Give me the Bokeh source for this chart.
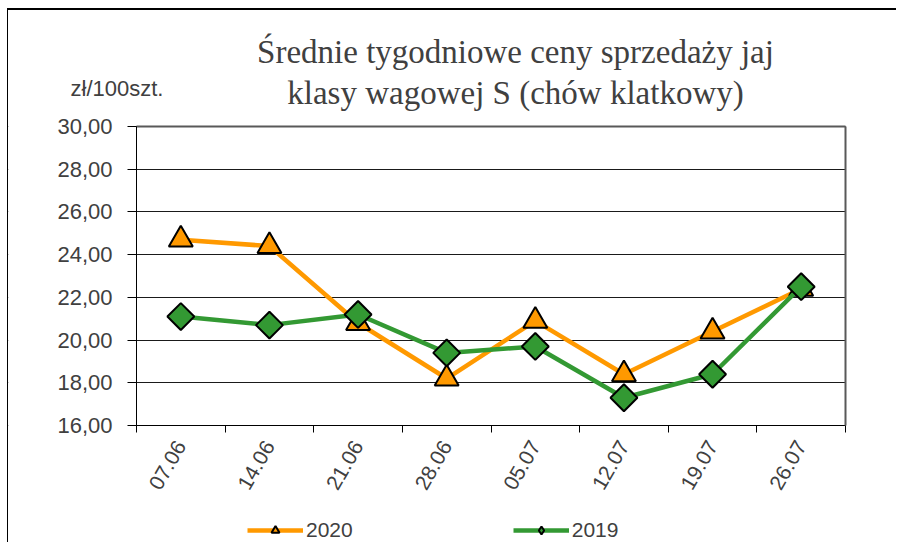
from math import pi
from bokeh.plotting import figure
from bokeh.models import (Range1d, FixedTicker, Legend, LegendItem, Label, LinearAxis,
                          BoxAnnotation)
from bokeh.embed import file_html
from bokeh.resources import INLINE

# ---- data ----
weeks = ["07.06", "14.06", "21.06", "28.06", "05.07", "12.07", "19.07", "26.07"]
prices_2020 = [24.7, 24.4, 20.8, 18.2, 20.9, 18.4, 20.4, 22.4]
prices_2019 = [21.1, 20.7, 21.2, 19.4, 19.7, 17.3, 18.4, 22.5]
y_ticks = [16, 18, 20, 22, 24, 26, 28, 30]
title_lines = ["Średnie tygodniowe ceny sprzedaży jaj", "klasy wagowej S (chów klatkowy)"]
unit_label = "zł/100szt."
series_names = ["2020", "2019"]

n = len(weeks)
xs = [i + 0.5 for i in range(n)]
y_lo, y_hi = y_ticks[0], y_ticks[-1]

# ---- layout (pixels) ----
W, H = 889, 534                 # canvas
PL, PW, PT, PH = 128, 709, 116, 299   # plotting area inside the canvas
px_x = PW / n
px_y = PH / (y_hi - y_lo)
x_range = Range1d(-PL / px_x, n + (W - PL - PW) / px_x)
y_range = Range1d(y_lo - (H - PT - PH) / px_y, y_hi + PT / px_y)

p = figure(width=W, height=H, output_backend="svg", toolbar_location=None,
           x_range=x_range, y_range=y_range,
           min_border=0, min_border_left=0, min_border_right=0,
           min_border_top=0, min_border_bottom=0)
p.styles = {"margin-left": "7px", "margin-top": "8px",
            "border-left": "1px solid #000000", "border-top": "2px solid #000000"}
p.background_fill_color = "white"
p.border_fill_color = "white"
p.outline_line_color = None

# grid
p.xgrid.visible = False
p.ygrid.ticker = FixedTicker(ticks=y_ticks)
p.ygrid.grid_line_color = "#1a1a1a"
p.ygrid.grid_line_width = 1
# keep the grid lines inside the plotting area only
p.add_layout(BoxAnnotation(right=0, fill_color="white", fill_alpha=1, line_color=None,
                           level="underlay"))
p.add_layout(BoxAnnotation(left=n, fill_color="white", fill_alpha=1, line_color=None,
                           level="underlay"))

# y axis
p.yaxis.fixed_location = 0
p.yaxis.bounds = (y_lo, y_hi)
p.yaxis.ticker = FixedTicker(ticks=y_ticks)
p.yaxis.major_label_overrides = {v: f"{v:.2f}".replace(".", ",") for v in y_ticks}
p.yaxis.axis_line_color = "#000000"
p.yaxis.major_tick_line_color = "#000000"
p.yaxis.major_tick_out = 9
p.yaxis.major_tick_in = 0
p.yaxis.minor_tick_line_color = None
p.yaxis.major_label_text_font = "Liberation Sans"
p.yaxis.major_label_text_font_size = "22px"
p.yaxis.major_label_text_color = "#404040"
p.yaxis.major_label_standoff = 15

# x axis
p.xaxis.fixed_location = y_lo
p.xaxis.bounds = (0, n)
p.xaxis.ticker = FixedTicker(ticks=xs, minor_ticks=list(range(n + 1)))
p.xaxis.major_label_overrides = {x: w for x, w in zip(xs, weeks)}
p.xaxis.major_label_orientation = pi / 3
p.xaxis.axis_line_color = "#000000"
p.xaxis.major_tick_out = 0
p.xaxis.major_tick_in = 0
p.xaxis.minor_tick_line_color = "#000000"
p.xaxis.minor_tick_out = 7
p.xaxis.minor_tick_in = 0
p.xaxis.major_label_text_font = "Liberation Sans"
p.xaxis.major_label_text_font_size = "21px"
p.xaxis.major_label_text_color = "#404040"
p.xaxis.major_label_standoff = 10

# plot-area border (right and top) as plain axes without ticks
right_ax = LinearAxis(fixed_location=n, bounds=(y_lo, y_hi), ticker=FixedTicker(ticks=[]),
                      axis_line_color="#595959", axis_line_width=2,
                      major_tick_line_color=None, minor_tick_line_color=None,
                      major_label_text_font_size="0px")
top_ax = LinearAxis(fixed_location=y_hi, bounds=(0, n), ticker=FixedTicker(ticks=[]),
                    axis_line_color="#595959", axis_line_width=2,
                    major_tick_line_color=None, minor_tick_line_color=None,
                    major_label_text_font_size="0px")
p.add_layout(right_ax, "right")
p.add_layout(top_ax, "above")

# series
l20 = p.line(xs, prices_2020, line_color="#FF9900", line_width=4.5)
s20 = p.scatter(xs, prices_2020, marker="triangle", size=24, fill_color="#FF9900",
                line_color="#000000", line_width=2)
l19 = p.line(xs, prices_2019, line_color="#339933", line_width=4.5)
# diamond symbol (fully covered by the rotated squares below) gives the legend its marker
k19 = p.scatter(xs, prices_2019, marker="diamond", size=20, fill_color="#339933",
                line_color="#000000", line_width=2)
s19 = p.scatter(xs, prices_2019, marker="square", angle=pi / 4, size=19,
                fill_color="#339933", line_color="#000000", line_width=2)

legend = Legend(items=[LegendItem(label=series_names[0], renderers=[l20, s20]),
                       LegendItem(label=series_names[1], renderers=[l19, k19])],
                orientation="horizontal", location=(239, 2),
                padding=0, margin=0, spacing=160,
                glyph_width=56, glyph_height=20, label_height=20, label_standoff=3,
                label_text_font="Liberation Sans", label_text_font_size="21px",
                label_text_color="#404040", border_line_color=None,
                background_fill_alpha=0)
p.add_layout(legend, "center")

# title & unit (data units; the plot area spans the whole canvas)
title_cx = (515 - 8 - PL) / px_x
for txt, yc in zip(title_lines, [y_hi + (126 - 51) / px_y, y_hi + (126 - 92) / px_y]):
    p.add_layout(Label(x=title_cx, y=yc, text=txt, text_align="center",
                       text_baseline="middle", text_font="Liberation Serif",
                       text_font_size="33px", text_color="#404040"))
p.add_layout(Label(x=(70 - 8 - PL) / px_x, y=y_hi + (126 - 88) / px_y, text=unit_label,
                   text_align="left", text_baseline="middle",
                   text_font="Liberation Sans", text_font_size="22px",
                   text_color="#404040"))

open("out.html", "w").write(file_html(p, INLINE))
